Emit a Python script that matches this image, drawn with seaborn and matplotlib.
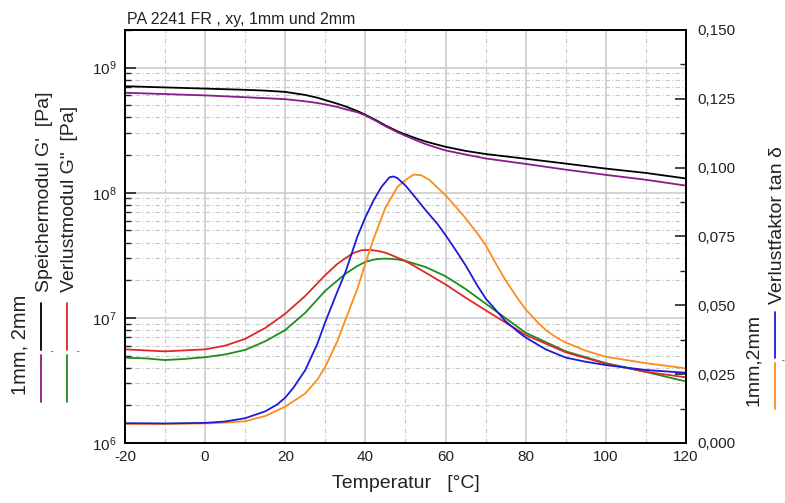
import numpy as np
import pandas as pd
import matplotlib
matplotlib.use("Agg")
import matplotlib.pyplot as plt
from matplotlib.lines import Line2D
from matplotlib.ticker import MultipleLocator, LogLocator, FuncFormatter, NullFormatter
import seaborn as sns

# Speichermodul G' [Pa] (1mm schwarz, 2mm lila)
t_speicher = [-20, -10, 0, 10, 15, 20, 25, 28, 30, 33, 35, 38, 40, 43, 45, 48, 50, 53, 55,
              58, 60, 65, 70, 80, 90, 100, 110, 120]
g_speicher_1mm = [7.1e8, 6.95e8, 6.8e8, 6.65e8, 6.55e8, 6.4e8, 6.05e8, 5.75e8, 5.5e8, 5.15e8,
                  4.9e8, 4.5e8, 4.2e8, 3.75e8, 3.45e8, 3.1e8, 2.92e8, 2.7e8, 2.57e8, 2.42e8,
                  2.33e8, 2.16e8, 2.04e8, 1.87e8, 1.71e8, 1.56e8, 1.44e8, 1.30e8]
g_speicher_2mm = [6.3e8, 6.15e8, 6.0e8, 5.8e8, 5.7e8, 5.6e8, 5.38e8, 5.22e8, 5.08e8, 4.85e8,
                  4.65e8, 4.4e8, 4.15e8, 3.7e8, 3.4e8, 3.05e8, 2.85e8, 2.6e8, 2.45e8, 2.28e8,
                  2.18e8, 2.02e8, 1.88e8, 1.70e8, 1.53e8, 1.39e8, 1.27e8, 1.14e8]

# Verlustmodul G'' [Pa] (1mm rot, 2mm gruen)
t_verlust_1mm = [-20, -10, 0, 5, 10, 15, 20, 25, 30, 33, 35, 37, 39, 41, 43, 45, 50, 55, 60,
                 65, 70, 80, 90, 100, 110, 120]
g_verlust_1mm = [5.6e6, 5.4e6, 5.6e6, 6.0e6, 6.8e6, 8.3e6, 1.08e7, 1.5e7, 2.2e7, 2.7e7,
                 3.0e7, 3.3e7, 3.47e7, 3.5e7, 3.43e7, 3.32e7, 2.85e7, 2.3e7, 1.85e7, 1.45e7,
                 1.15e7, 7.3e6, 5.3e6, 4.3e6, 3.7e6, 3.35e6]
t_verlust_2mm = [-20, -15, -10, -5, 0, 5, 10, 15, 20, 25, 30, 35, 38, 40, 42, 44, 46, 48, 50,
                 55, 60, 65, 70, 80, 90, 100, 110, 120]
g_verlust_2mm = [4.8e6, 4.75e6, 4.6e6, 4.7e6, 4.85e6, 5.1e6, 5.55e6, 6.5e6, 8.0e6, 1.1e7,
                 1.65e7, 2.25e7, 2.6e7, 2.8e7, 2.92e7, 2.97e7, 2.97e7, 2.93e7, 2.85e7,
                 2.55e7, 2.15e7, 1.7e7, 1.3e7, 7.6e6, 5.4e6, 4.35e6, 3.7e6, 3.1e6]

# Verlustfaktor tan delta (1mm blau, 2mm orange)
t_tan_1mm = [-20, -10, 0, 5, 10, 15, 18, 20, 22, 25, 28, 30, 33, 35, 38, 40, 42, 44, 46, 47,
             48, 50, 52, 55, 58, 60, 63, 65, 68, 70, 73, 75, 78, 80, 85, 90, 95, 100, 110, 120]
tan_1mm = [0.0072, 0.0071, 0.0073, 0.0078, 0.009, 0.0115, 0.014, 0.0165, 0.020, 0.0265,
           0.036, 0.044, 0.055, 0.062, 0.075, 0.082, 0.088, 0.093, 0.0965, 0.0968, 0.0962,
           0.0935, 0.090, 0.0846, 0.0795, 0.0755, 0.069, 0.0645, 0.057, 0.0525, 0.0475,
           0.0442, 0.0405, 0.0383, 0.034, 0.031, 0.0295, 0.0283, 0.0265, 0.0255]
t_tan_2mm = [-20, -10, 0, 5, 10, 15, 20, 25, 28, 30, 33, 35, 38, 40, 42, 45, 48, 50, 52, 54,
             56, 60, 63, 65, 68, 70, 73, 75, 78, 80, 83, 85, 88, 90, 95, 100, 110, 120]
tan_2mm = [0.0069, 0.0069, 0.0071, 0.0074, 0.0079, 0.0098, 0.0132, 0.018, 0.023, 0.0277,
           0.037, 0.0447, 0.056, 0.0653, 0.074, 0.0855, 0.093, 0.0955, 0.0975, 0.0972,
           0.0955, 0.090, 0.085, 0.0816, 0.076, 0.0719, 0.064, 0.059, 0.0525, 0.0485,
           0.0438, 0.041, 0.038, 0.0365, 0.0335, 0.0313, 0.029, 0.0271]

x_ticks = [-20, 0, 20, 40, 60, 80, 100, 120]
tan_ticks = [0.0, 0.025, 0.05, 0.075, 0.1, 0.125, 0.15]

sns.set_theme(style="white")
plt.rcParams['font.family'] = ['Liberation Sans', 'DejaVu Sans']
plt.rcParams['mathtext.fontset'] = 'custom'
plt.rcParams['mathtext.rm'] = 'Liberation Sans'
plt.rcParams['mathtext.it'] = 'Liberation Sans:italic'
plt.rcParams['axes.unicode_minus'] = False

fig = plt.figure(figsize=(7.85, 5.03), dpi=100)
ax = fig.add_axes([0.1592, 0.1193, 0.7147, 0.8211])
ax2 = ax.twinx()

lw = 1.3
sns.lineplot(x=t_speicher, y=g_speicher_1mm, ax=ax, color='black', lw=lw, sort=False, estimator=None)
sns.lineplot(x=t_speicher, y=g_speicher_2mm, ax=ax, color='#8b1a8b', lw=lw, sort=False, estimator=None)
sns.lineplot(x=t_verlust_2mm, y=g_verlust_2mm, ax=ax, color='#1e8c1e', lw=lw, sort=False, estimator=None)
sns.lineplot(x=t_verlust_1mm, y=g_verlust_1mm, ax=ax, color='#e02828', lw=lw, sort=False, estimator=None)
sns.lineplot(x=t_tan_2mm, y=tan_2mm, ax=ax2, color='#ff8c1a', lw=lw, sort=False, estimator=None)
sns.lineplot(x=t_tan_1mm, y=tan_1mm, ax=ax2, color='#1c1cd8', lw=lw, sort=False, estimator=None)

# linke Achse (log)
ax.set_yscale('log')
ax.set_ylim(1e6, 2.0e9)
ax.set_xlim(-20, 120)
ax.set_xticks(x_ticks)
ax.xaxis.set_minor_locator(MultipleLocator(10))
ax.yaxis.set_major_locator(LogLocator(base=10))
ax.yaxis.set_minor_locator(LogLocator(base=10, subs=np.arange(2, 10)))
ax.yaxis.set_minor_formatter(NullFormatter())
ax.set_ylabel('')

ax.grid(which='major', axis='both', color='#cccccc', lw=1.2, ls='-')
ax.grid(which='minor', axis='both', color='#c8c8c8', lw=0.8, ls=(0, (4, 2, 1, 2)))
ax.set_axisbelow(True)

ax.tick_params(axis='both', which='major', direction='in', length=8, width=1.2,
               labelsize=11, colors='#222222', pad=6)
ax.tick_params(axis='both', which='minor', direction='in', length=4, width=1.0, colors='#222222')
ax.tick_params(axis='x', which='major', pad=5)

# rechte Achse (tan delta)
ax2.set_ylim(0, 0.15)
ax2.set_yticks(tan_ticks)
ax2.yaxis.set_minor_locator(MultipleLocator(0.0125))
ax2.yaxis.set_major_formatter(FuncFormatter(lambda v, p: f"{v:.3f}".replace('.', ',')))
ax2.tick_params(axis='y', which='major', direction='in', length=8, width=1.2,
                labelsize=11, colors='#222222', pad=8)
ax2.tick_params(axis='y', which='minor', direction='in', length=4, width=1.0, colors='#222222')
ax2.set_ylabel('')
ax2.grid(False)

for a in (ax, ax2):
    for s in a.spines.values():
        s.set_color('black')
        s.set_linewidth(1.3)

fig.text(0.162, 0.952, 'PA 2241 FR , xy, 1mm und 2mm', fontsize=11.5, color='#222222',
         ha='left', va='baseline')
ax.set_xlabel('Temperatur   [°C]', fontsize=14, color='#222222', labelpad=8)

# Achsbeschriftungen mit Linienstuecken
H = 503.0
W = 785.0
fig.text(45 / W, 1 - 292 / H, "Speichermodul G'  [Pa]", rotation=90, fontsize=14,
         ha='center', va='bottom', color='#222222')
fig.text(70 / W, 1 - 292 / H, 'Verlustmodul G"  [Pa]', rotation=90, fontsize=14,
         ha='center', va='bottom', color='#222222')
fig.text(20 / W, 1 - 345 / H, '1mm, 2mm', rotation=90, fontsize=14.5,
         ha='center', va='center', color='#222222')
fig.text(754 / W, 1 - 360 / H, '1mm,2mm', rotation=90, fontsize=14,
         ha='center', va='center', color='#222222')
fig.text(777 / W, 1 - 304 / H, 'Verlustfaktor tan δ', rotation=90, fontsize=14,
         ha='center', va='bottom', color='#222222')

keys = [(41, 303, 350, 'black'), (41, 355, 402, '#8b1a8b'),
        (67, 303, 350, '#e02828'), (67, 355, 402, '#1e8c1e'),
        (775, 312, 358, '#1c1cd8'), (775, 363, 409, '#ff8c1a')]
for kx, y0, y1, c in keys:
    fig.add_artist(Line2D([kx / W, kx / W], [1 - y0 / H, 1 - y1 / H],
                          transform=fig.transFigure, color=c, lw=1.3))
for cx, cy in [(50, 351), (76, 351), (781, 360)]:
    fig.text(cx / W, 1 - cy / H, ',', fontsize=7, rotation=90, ha='center', va='center',
             color='#222222')

fig.savefig('out.png', dpi=100)
